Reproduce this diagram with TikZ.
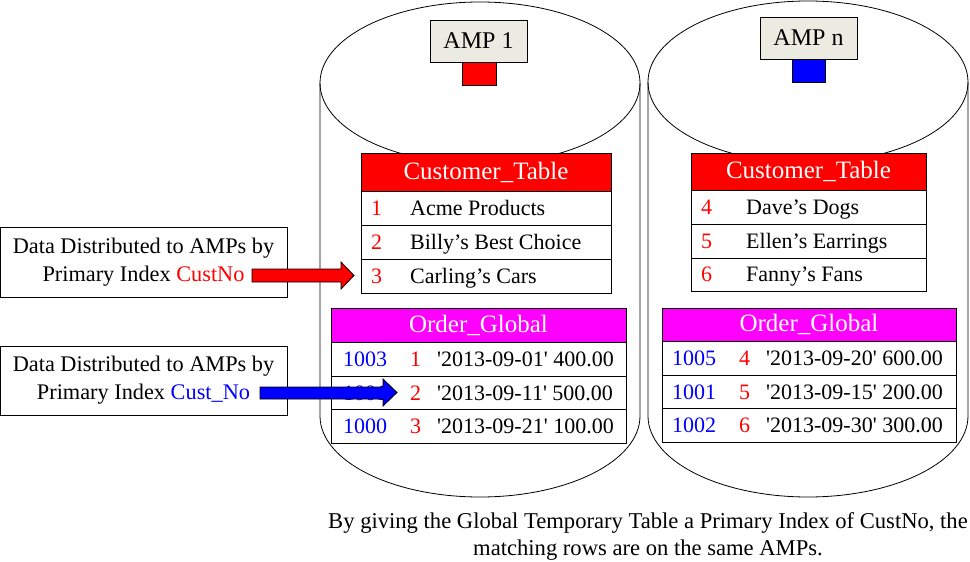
\documentclass[tikz,border=0pt]{standalone}
\usepackage{fontspec}
\setmainfont{Liberation Serif}
\definecolor{ampfill}{HTML}{ECEBE2}
\definecolor{pRed}{HTML}{FF0000}
\definecolor{pBlue}{HTML}{0000FF}
\definecolor{pMag}{HTML}{FF00FF}
\newcommand{\sq}{\textquotesingle}
\begin{document}
\begin{tikzpicture}[x=1pt,y=1pt,
  cyl/.style={draw=black, line width=0.8pt},
  hdr/.style={draw=black, line width=1pt, text=white, inner sep=0pt, font=\fontsize{25}{28}\selectfont},
  cell/.style={draw=black, fill=white, line width=0.8pt, inner sep=0pt},
  txt/.style={inner sep=0pt, anchor=base west, font=\fontsize{22}{26}\selectfont},
  ampbox/.style={draw=black, fill=ampfill, line width=1pt, inner sep=0pt, font=\fontsize{24}{28}\selectfont},
  sqbox/.style={draw=black, line width=1pt, inner sep=0pt},
  note/.style={draw=black, line width=0.8pt, align=center, inner sep=0pt, font=\fontsize{22.3}{28}\selectfont},
  bigarrow/.style={draw=black, line width=0.8pt}
]
\useasboundingbox (0,0) rectangle (970,-562);

% ---- cylinders ----
\draw[cyl] (480,-83) ellipse [x radius=160, y radius=81];
\draw[cyl] (320,-83) -- (320,-416) arc[start angle=180, end angle=360, x radius=160, y radius=81] -- (640,-83);
\draw[cyl] (808,-82) ellipse [x radius=160, y radius=81];
\draw[cyl] (648,-82) -- (648,-416) arc[start angle=180, end angle=360, x radius=160, y radius=81] -- (968,-82);

% ---- AMP labels ----
\node[ampbox, minimum width=97, minimum height=42] (amp1) at (478.5,-41) {AMP 1};
\node[sqbox, fill=pRed, minimum width=34, minimum height=23, anchor=north] (sq1) at (479,-62) {};
\node[ampbox, minimum width=97, minimum height=42] (ampn) at (808.5,-38) {AMP n};
\node[sqbox, fill=pBlue, minimum width=33, minimum height=23, anchor=north] (sqn) at (808.5,-59) {};

% ---- Customer table 1 ----
\node[hdr, fill=pRed, minimum width=250, minimum height=38] (ct1h) at (486,-172) {Customer\_Table};
\node[cell, minimum width=250, minimum height=34] (ct1a) at (486,-208) {};
\node[cell, minimum width=250, minimum height=34] (ct1b) at (486,-242) {};
\node[cell, minimum width=250, minimum height=34] (ct1c) at (486,-276) {};
\node[txt, text=pRed] at (371,-215) {1};
\node[txt] at (410,-215) {Acme Products};
\node[txt, text=pRed] at (371,-249) {2};
\node[txt] at (410,-249) {Billy’s Best Choice};
\node[txt, text=pRed] at (371,-283) {3};
\node[txt] at (410,-283) {Carling’s Cars};

% ---- Customer table n ----
\node[hdr, fill=pRed, minimum width=235, minimum height=37] (ct2h) at (808.5,-171.5) {Customer\_Table};
\node[cell, minimum width=235, minimum height=34] (ct2a) at (808.5,-207) {};
\node[cell, minimum width=235, minimum height=34] (ct2b) at (808.5,-241) {};
\node[cell, minimum width=235, minimum height=33] (ct2c) at (808.5,-274.5) {};
\node[txt, text=pRed] at (701,-214) {4};
\node[txt] at (746,-214) {Dave’s Dogs};
\node[txt, text=pRed] at (701,-248) {5};
\node[txt] at (746,-248) {Ellen’s Earrings};
\node[txt, text=pRed] at (701,-281) {6};
\node[txt] at (746,-281) {Fanny’s Fans};

% ---- Order table 1 ----
\node[hdr, fill=pMag, minimum width=295, minimum height=34] (og1h) at (478.5,-325) {Order\_Global};
\node[cell, minimum width=295, minimum height=34] (og1a) at (478.5,-359) {};
\node[cell, minimum width=295, minimum height=33] (og1b) at (478.5,-392.5) {};
\node[cell, minimum width=295, minimum height=34] (og1c) at (478.5,-426) {};
\node[txt, text=pBlue] at (343,-366) {1003};
\node[txt, text=pRed] at (410,-366) {1};
\node[txt] at (437,-366) {\sq2013-09-01\sq{} 400.00};
\node[txt, text=pBlue] at (343,-400) {1001};
\node[txt, text=pRed] at (410,-400) {2};
\node[txt] at (437,-400) {\sq2013-09-11\sq{} 500.00};
\node[txt, text=pBlue] at (343,-433) {1000};
\node[txt, text=pRed] at (410,-433) {3};
\node[txt] at (437,-433) {\sq2013-09-21\sq{} 100.00};

% ---- Order table n ----
\node[hdr, fill=pMag, minimum width=294, minimum height=33] (og2h) at (809,-324.5) {Order\_Global};
\node[cell, minimum width=294, minimum height=34] (og2a) at (809,-358) {};
\node[cell, minimum width=294, minimum height=33] (og2b) at (809,-391.5) {};
\node[cell, minimum width=294, minimum height=34] (og2c) at (809,-425) {};
\node[txt, text=pBlue] at (672,-365) {1005};
\node[txt, text=pRed] at (739,-365) {4};
\node[txt] at (766,-365) {\sq2013-09-20\sq{} 600.00};
\node[txt, text=pBlue] at (672,-399) {1001};
\node[txt, text=pRed] at (739,-399) {5};
\node[txt] at (766,-399) {\sq2013-09-15\sq{} 200.00};
\node[txt, text=pBlue] at (672,-432) {1002};
\node[txt, text=pRed] at (739,-432) {6};
\node[txt] at (766,-432) {\sq2013-09-30\sq{} 300.00};

% ---- left notes ----
\node[note, minimum width=287, minimum height=70] (n1) at (143.5,-262) {Data Distributed to AMPs by\\Primary Index \textcolor{pRed}{CustNo}};
\node[note, minimum width=287, minimum height=69] (n2) at (143.5,-380.5) {Data Distributed to AMPs by\\Primary Index \textcolor{pBlue}{Cust\_No}};

% ---- big arrows ----
\draw[bigarrow, fill=pRed] (252,-269) -- (341,-269) -- (341,-262) -- (354,-275.5) -- (341,-289) -- (341,-282) -- (252,-282) -- cycle;
\draw[bigarrow, fill=pBlue] (260,-387) -- (383,-387) -- (383,-379) -- (397,-392.5) -- (383,-406) -- (383,-399) -- (260,-399) -- cycle;

% ---- caption ----
\node[align=center, inner sep=0pt, font=\fontsize{22.6}{27}\selectfont] (cap) at (648,-536) {By giving the Global Temporary Table a Primary Index of CustNo, the\\matching rows are on the same AMPs.};
\end{tikzpicture}
\end{document}
